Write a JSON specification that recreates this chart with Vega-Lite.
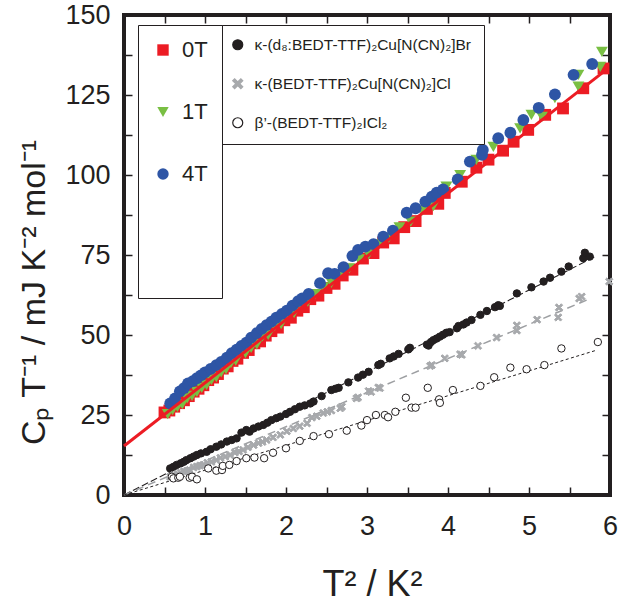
{
  "$schema": "https://vega.github.io/schema/vega-lite/v6.json",
  "width": 486,
  "height": 480,
  "autosize": {"type": "none"},
  "padding": {"left": 124, "top": 15, "right": 29, "bottom": 111},
  "background": "white",
  "datasets": {
    "fits": [
      {"fit": "0T", "T2": 0, "CpT": 15.3},
      {"fit": "0T", "T2": 5.98, "CpT": 133.4},
      {"fit": "Br", "T2": 0, "CpT": 0},
      {"fit": "Br", "T2": 5.81, "CpT": 74.4},
      {"fit": "Cl", "T2": 0, "CpT": 0},
      {"fit": "Cl", "T2": 5.72, "CpT": 61},
      {"fit": "ICl2", "T2": 0, "CpT": 0},
      {"fit": "ICl2", "T2": 5.84, "CpT": 45.3}
    ],
    "compounds": [
      {"c": "Br", "T2": 0.57, "CpT": 8.3}, {"c": "Br", "T2": 0.61, "CpT": 8.8}, {"c": "Br", "T2": 0.65, "CpT": 9.4},
      {"c": "Br", "T2": 0.70, "CpT": 9.9}, {"c": "Br", "T2": 0.74, "CpT": 10.4}, {"c": "Br", "T2": 0.77, "CpT": 10.9},
      {"c": "Br", "T2": 0.82, "CpT": 11.5}, {"c": "Br", "T2": 0.86, "CpT": 12.0}, {"c": "Br", "T2": 0.90, "CpT": 12.5},
      {"c": "Br", "T2": 0.95, "CpT": 13.0}, {"c": "Br", "T2": 1.02, "CpT": 13.5}, {"c": "Br", "T2": 1.07, "CpT": 14.3},
      {"c": "Br", "T2": 1.14, "CpT": 15.1}, {"c": "Br", "T2": 1.20, "CpT": 15.8}, {"c": "Br", "T2": 1.27, "CpT": 16.7},
      {"c": "Br", "T2": 1.33, "CpT": 17.2}, {"c": "Br", "T2": 1.39, "CpT": 17.7}, {"c": "Br", "T2": 1.45, "CpT": 19.5},
      {"c": "Br", "T2": 1.51, "CpT": 20.3}, {"c": "Br", "T2": 1.55, "CpT": 19.8}, {"c": "Br", "T2": 1.60, "CpT": 20.8},
      {"c": "Br", "T2": 1.66, "CpT": 21.4}, {"c": "Br", "T2": 1.72, "CpT": 21.9}, {"c": "Br", "T2": 1.77, "CpT": 22.6},
      {"c": "Br", "T2": 1.82, "CpT": 23.4}, {"c": "Br", "T2": 1.88, "CpT": 24.0}, {"c": "Br", "T2": 1.93, "CpT": 24.5},
      {"c": "Br", "T2": 2.00, "CpT": 25.3}, {"c": "Br", "T2": 2.05, "CpT": 26.0}, {"c": "Br", "T2": 2.11, "CpT": 26.8},
      {"c": "Br", "T2": 2.17, "CpT": 27.6}, {"c": "Br", "T2": 2.23, "CpT": 28.0}, {"c": "Br", "T2": 2.30, "CpT": 28.6},
      {"c": "Br", "T2": 2.34, "CpT": 29.2}, {"c": "Br", "T2": 2.44, "CpT": 30.9}, {"c": "Br", "T2": 2.56, "CpT": 32.8},
      {"c": "Br", "T2": 2.61, "CpT": 33.2}, {"c": "Br", "T2": 2.65, "CpT": 33.5}, {"c": "Br", "T2": 2.77, "CpT": 35.2},
      {"c": "Br", "T2": 2.89, "CpT": 36.7}, {"c": "Br", "T2": 2.95, "CpT": 37.6}, {"c": "Br", "T2": 3.02, "CpT": 38.5},
      {"c": "Br", "T2": 3.14, "CpT": 40.6}, {"c": "Br", "T2": 3.17, "CpT": 41.0}, {"c": "Br", "T2": 3.28, "CpT": 42.7},
      {"c": "Br", "T2": 3.33, "CpT": 43.3}, {"c": "Br", "T2": 3.39, "CpT": 44.1}, {"c": "Br", "T2": 3.51, "CpT": 45.5},
      {"c": "Br", "T2": 3.53, "CpT": 46.0}, {"c": "Br", "T2": 3.74, "CpT": 47.0}, {"c": "Br", "T2": 3.76, "CpT": 46.7},
      {"c": "Br", "T2": 3.79, "CpT": 47.8}, {"c": "Br", "T2": 3.82, "CpT": 48.4}, {"c": "Br", "T2": 3.86, "CpT": 48.9},
      {"c": "Br", "T2": 3.90, "CpT": 49.5}, {"c": "Br", "T2": 3.94, "CpT": 50.1}, {"c": "Br", "T2": 3.98, "CpT": 50.7},
      {"c": "Br", "T2": 4.02, "CpT": 50.9}, {"c": "Br", "T2": 4.11, "CpT": 52.1}, {"c": "Br", "T2": 4.13, "CpT": 52.8},
      {"c": "Br", "T2": 4.19, "CpT": 53.3}, {"c": "Br", "T2": 4.23, "CpT": 53.9}, {"c": "Br", "T2": 4.29, "CpT": 54.7},
      {"c": "Br", "T2": 4.40, "CpT": 56.3}, {"c": "Br", "T2": 4.48, "CpT": 57.5}, {"c": "Br", "T2": 4.58, "CpT": 58.7},
      {"c": "Br", "T2": 4.62, "CpT": 59.3}, {"c": "Br", "T2": 4.64, "CpT": 59.1}, {"c": "Br", "T2": 4.85, "CpT": 63.0},
      {"c": "Br", "T2": 5.03, "CpT": 64.9}, {"c": "Br", "T2": 5.18, "CpT": 66.7}, {"c": "Br", "T2": 5.26, "CpT": 67.9},
      {"c": "Br", "T2": 5.40, "CpT": 69.8}, {"c": "Br", "T2": 5.49, "CpT": 71.4}, {"c": "Br", "T2": 5.67, "CpT": 74.0},
      {"c": "Br", "T2": 5.69, "CpT": 75.7}, {"c": "Br", "T2": 5.75, "CpT": 74.5},
      {"c": "Cl", "T2": 0.57, "CpT": 5.7}, {"c": "Cl", "T2": 0.62, "CpT": 6.2}, {"c": "Cl", "T2": 0.66, "CpT": 6.5},
      {"c": "Cl", "T2": 0.70, "CpT": 7.0}, {"c": "Cl", "T2": 0.74, "CpT": 7.4}, {"c": "Cl", "T2": 0.78, "CpT": 7.6},
      {"c": "Cl", "T2": 0.81, "CpT": 7.8}, {"c": "Cl", "T2": 0.86, "CpT": 8.6}, {"c": "Cl", "T2": 0.90, "CpT": 8.9},
      {"c": "Cl", "T2": 0.94, "CpT": 9.2}, {"c": "Cl", "T2": 0.98, "CpT": 9.4}, {"c": "Cl", "T2": 1.03, "CpT": 10.1},
      {"c": "Cl", "T2": 1.08, "CpT": 10.4}, {"c": "Cl", "T2": 1.14, "CpT": 10.9}, {"c": "Cl", "T2": 1.19, "CpT": 11.6},
      {"c": "Cl", "T2": 1.25, "CpT": 12.0}, {"c": "Cl", "T2": 1.31, "CpT": 12.5}, {"c": "Cl", "T2": 1.37, "CpT": 13.3},
      {"c": "Cl", "T2": 1.42, "CpT": 13.6}, {"c": "Cl", "T2": 1.47, "CpT": 14.1}, {"c": "Cl", "T2": 1.53, "CpT": 14.9},
      {"c": "Cl", "T2": 1.60, "CpT": 15.6}, {"c": "Cl", "T2": 1.66, "CpT": 16.2}, {"c": "Cl", "T2": 1.71, "CpT": 16.6},
      {"c": "Cl", "T2": 1.76, "CpT": 17.2}, {"c": "Cl", "T2": 1.84, "CpT": 18.0}, {"c": "Cl", "T2": 1.93, "CpT": 18.8},
      {"c": "Cl", "T2": 2.01, "CpT": 19.9}, {"c": "Cl", "T2": 2.09, "CpT": 20.8}, {"c": "Cl", "T2": 2.17, "CpT": 21.5},
      {"c": "Cl", "T2": 2.26, "CpT": 22.4}, {"c": "Cl", "T2": 2.32, "CpT": 24.2}, {"c": "Cl", "T2": 2.38, "CpT": 24.6},
      {"c": "Cl", "T2": 2.46, "CpT": 25.6}, {"c": "Cl", "T2": 2.51, "CpT": 26.0}, {"c": "Cl", "T2": 2.56, "CpT": 26.4},
      {"c": "Cl", "T2": 2.67, "CpT": 27.1}, {"c": "Cl", "T2": 2.69, "CpT": 27.6}, {"c": "Cl", "T2": 2.87, "CpT": 30.2},
      {"c": "Cl", "T2": 2.89, "CpT": 30.5}, {"c": "Cl", "T2": 3.02, "CpT": 32.5}, {"c": "Cl", "T2": 3.05, "CpT": 32.2},
      {"c": "Cl", "T2": 3.14, "CpT": 33.6}, {"c": "Cl", "T2": 3.16, "CpT": 33.4}, {"c": "Cl", "T2": 3.78, "CpT": 40.3},
      {"c": "Cl", "T2": 3.80, "CpT": 40.6}, {"c": "Cl", "T2": 3.96, "CpT": 42.7}, {"c": "Cl", "T2": 4.15, "CpT": 44.0},
      {"c": "Cl", "T2": 4.17, "CpT": 43.8}, {"c": "Cl", "T2": 4.37, "CpT": 46.6}, {"c": "Cl", "T2": 4.60, "CpT": 49.2},
      {"c": "Cl", "T2": 4.85, "CpT": 51.4}, {"c": "Cl", "T2": 4.85, "CpT": 53.0}, {"c": "Cl", "T2": 5.10, "CpT": 54.8},
      {"c": "Cl", "T2": 5.36, "CpT": 55.5}, {"c": "Cl", "T2": 5.37, "CpT": 58.6}, {"c": "Cl", "T2": 5.62, "CpT": 61.4},
      {"c": "Cl", "T2": 5.65, "CpT": 62.0}, {"c": "Cl", "T2": 5.99, "CpT": 66.7},
      {"c": "ICl2", "T2": 0.59, "CpT": 5.7}, {"c": "ICl2", "T2": 0.61, "CpT": 5.2}, {"c": "ICl2", "T2": 0.67, "CpT": 5.4},
      {"c": "ICl2", "T2": 0.69, "CpT": 5.7}, {"c": "ICl2", "T2": 0.81, "CpT": 5.4}, {"c": "ICl2", "T2": 0.84, "CpT": 5.7},
      {"c": "ICl2", "T2": 0.90, "CpT": 4.9}, {"c": "ICl2", "T2": 1.04, "CpT": 8.3}, {"c": "ICl2", "T2": 1.14, "CpT": 7.6},
      {"c": "ICl2", "T2": 1.21, "CpT": 7.8}, {"c": "ICl2", "T2": 1.22, "CpT": 9.1}, {"c": "ICl2", "T2": 1.30, "CpT": 9.4},
      {"c": "ICl2", "T2": 1.39, "CpT": 10.6}, {"c": "ICl2", "T2": 1.51, "CpT": 11.5}, {"c": "ICl2", "T2": 1.61, "CpT": 11.7},
      {"c": "ICl2", "T2": 1.73, "CpT": 11.5}, {"c": "ICl2", "T2": 1.84, "CpT": 13.2}, {"c": "ICl2", "T2": 2.00, "CpT": 14.6},
      {"c": "ICl2", "T2": 2.17, "CpT": 16.9}, {"c": "ICl2", "T2": 2.34, "CpT": 18.4}, {"c": "ICl2", "T2": 2.53, "CpT": 19.0},
      {"c": "ICl2", "T2": 2.75, "CpT": 20.1}, {"c": "ICl2", "T2": 2.93, "CpT": 21.7}, {"c": "ICl2", "T2": 3.00, "CpT": 23.4},
      {"c": "ICl2", "T2": 3.11, "CpT": 25.0}, {"c": "ICl2", "T2": 3.22, "CpT": 25.0}, {"c": "ICl2", "T2": 3.26, "CpT": 24.3},
      {"c": "ICl2", "T2": 3.35, "CpT": 26.0}, {"c": "ICl2", "T2": 3.48, "CpT": 30.4}, {"c": "ICl2", "T2": 3.55, "CpT": 27.3},
      {"c": "ICl2", "T2": 3.60, "CpT": 27.3}, {"c": "ICl2", "T2": 3.75, "CpT": 33.5}, {"c": "ICl2", "T2": 3.89, "CpT": 29.9},
      {"c": "ICl2", "T2": 3.90, "CpT": 28.8}, {"c": "ICl2", "T2": 4.06, "CpT": 32.8}, {"c": "ICl2", "T2": 4.40, "CpT": 34.1},
      {"c": "ICl2", "T2": 4.57, "CpT": 36.8}, {"c": "ICl2", "T2": 4.77, "CpT": 39.8}, {"c": "ICl2", "T2": 4.97, "CpT": 39.3},
      {"c": "ICl2", "T2": 5.19, "CpT": 40.6}, {"c": "ICl2", "T2": 5.40, "CpT": 45.8}, {"c": "ICl2", "T2": 5.85, "CpT": 47.8}
    ],
    "field": [
      {"s": "0T", "T2": 0.50, "CpT": 25.8}, {"s": "0T", "T2": 0.56, "CpT": 26.4}, {"s": "0T", "T2": 0.62, "CpT": 27.6},
      {"s": "0T", "T2": 0.68, "CpT": 28.7}, {"s": "0T", "T2": 0.74, "CpT": 29.6}, {"s": "0T", "T2": 0.80, "CpT": 30.9},
      {"s": "0T", "T2": 0.86, "CpT": 32.3}, {"s": "0T", "T2": 0.92, "CpT": 33.2}, {"s": "0T", "T2": 0.98, "CpT": 34.3},
      {"s": "0T", "T2": 1.04, "CpT": 35.9}, {"s": "0T", "T2": 1.10, "CpT": 36.7}, {"s": "0T", "T2": 1.16, "CpT": 37.8},
      {"s": "0T", "T2": 1.22, "CpT": 39.5}, {"s": "0T", "T2": 1.28, "CpT": 40.2}, {"s": "0T", "T2": 1.34, "CpT": 41.9},
      {"s": "0T", "T2": 1.40, "CpT": 42.6}, {"s": "0T", "T2": 1.47, "CpT": 44.4}, {"s": "0T", "T2": 1.54, "CpT": 45.3},
      {"s": "0T", "T2": 1.61, "CpT": 47.4}, {"s": "0T", "T2": 1.68, "CpT": 48.0}, {"s": "0T", "T2": 1.75, "CpT": 49.8},
      {"s": "0T", "T2": 1.82, "CpT": 51.2}, {"s": "0T", "T2": 1.90, "CpT": 52.3}, {"s": "0T", "T2": 1.98, "CpT": 54.6},
      {"s": "0T", "T2": 2.06, "CpT": 55.4}, {"s": "0T", "T2": 2.14, "CpT": 57.6}, {"s": "0T", "T2": 2.22, "CpT": 58.7},
      {"s": "0T", "T2": 2.30, "CpT": 61.2}, {"s": "0T", "T2": 2.40, "CpT": 62.3}, {"s": "0T", "T2": 2.50, "CpT": 64.7},
      {"s": "0T", "T2": 2.60, "CpT": 66.0}, {"s": "0T", "T2": 2.70, "CpT": 68.6}, {"s": "0T", "T2": 2.82, "CpT": 70.4},
      {"s": "0T", "T2": 2.95, "CpT": 73.9}, {"s": "0T", "T2": 3.08, "CpT": 75.6}, {"s": "0T", "T2": 3.20, "CpT": 78.9},
      {"s": "0T", "T2": 3.33, "CpT": 80.2}, {"s": "0T", "T2": 3.46, "CpT": 83.7}, {"s": "0T", "T2": 3.60, "CpT": 85.6},
      {"s": "0T", "T2": 3.74, "CpT": 89.4}, {"s": "0T", "T2": 3.88, "CpT": 91.0}, {"s": "0T", "T2": 3.96, "CpT": 94.4},
      {"s": "0T", "T2": 4.17, "CpT": 97.9}, {"s": "0T", "T2": 4.35, "CpT": 102.3}, {"s": "0T", "T2": 4.50, "CpT": 104.8},
      {"s": "0T", "T2": 4.68, "CpT": 107.6}, {"s": "0T", "T2": 4.81, "CpT": 110.4}, {"s": "0T", "T2": 4.99, "CpT": 114.1},
      {"s": "0T", "T2": 5.20, "CpT": 118.8}, {"s": "0T", "T2": 5.42, "CpT": 120.8}, {"s": "0T", "T2": 5.67, "CpT": 127.1},
      {"s": "0T", "T2": 5.92, "CpT": 133.3},
      {"s": "1T", "T2": 0.54, "CpT": 25.3}, {"s": "1T", "T2": 0.60, "CpT": 26.5}, {"s": "1T", "T2": 0.66, "CpT": 27.5},
      {"s": "1T", "T2": 0.72, "CpT": 28.4}, {"s": "1T", "T2": 0.78, "CpT": 30.2}, {"s": "1T", "T2": 0.84, "CpT": 31.0},
      {"s": "1T", "T2": 0.90, "CpT": 32.2}, {"s": "1T", "T2": 0.96, "CpT": 33.5}, {"s": "1T", "T2": 1.02, "CpT": 34.4},
      {"s": "1T", "T2": 1.08, "CpT": 36.0}, {"s": "1T", "T2": 1.14, "CpT": 36.8}, {"s": "1T", "T2": 1.20, "CpT": 38.3},
      {"s": "1T", "T2": 1.26, "CpT": 39.3}, {"s": "1T", "T2": 1.32, "CpT": 41.2}, {"s": "1T", "T2": 1.38, "CpT": 42.0},
      {"s": "1T", "T2": 1.44, "CpT": 44.6}, {"s": "1T", "T2": 1.50, "CpT": 44.3}, {"s": "1T", "T2": 1.57, "CpT": 46.0},
      {"s": "1T", "T2": 1.64, "CpT": 47.1}, {"s": "1T", "T2": 1.71, "CpT": 49.6}, {"s": "1T", "T2": 1.78, "CpT": 50.0},
      {"s": "1T", "T2": 1.86, "CpT": 52.8}, {"s": "1T", "T2": 1.94, "CpT": 53.4}, {"s": "1T", "T2": 2.02, "CpT": 56.3},
      {"s": "1T", "T2": 2.10, "CpT": 56.9}, {"s": "1T", "T2": 2.18, "CpT": 59.6}, {"s": "1T", "T2": 2.27, "CpT": 60.4},
      {"s": "1T", "T2": 2.36, "CpT": 62.8}, {"s": "1T", "T2": 2.46, "CpT": 64.9}, {"s": "1T", "T2": 2.56, "CpT": 66.3},
      {"s": "1T", "T2": 2.66, "CpT": 68.9}, {"s": "1T", "T2": 2.78, "CpT": 70.8}, {"s": "1T", "T2": 2.90, "CpT": 73.6},
      {"s": "1T", "T2": 3.02, "CpT": 75.2}, {"s": "1T", "T2": 3.14, "CpT": 78.3}, {"s": "1T", "T2": 3.27, "CpT": 80.4},
      {"s": "1T", "T2": 3.40, "CpT": 83.6}, {"s": "1T", "T2": 3.54, "CpT": 85.4}, {"s": "1T", "T2": 3.68, "CpT": 88.9},
      {"s": "1T", "T2": 3.82, "CpT": 90.3}, {"s": "1T", "T2": 3.98, "CpT": 96.4}, {"s": "1T", "T2": 4.15, "CpT": 100.0},
      {"s": "1T", "T2": 4.35, "CpT": 104.7}, {"s": "1T", "T2": 4.56, "CpT": 108.8}, {"s": "1T", "T2": 4.89, "CpT": 114.6},
      {"s": "1T", "T2": 5.03, "CpT": 118.8}, {"s": "1T", "T2": 5.16, "CpT": 118.2}, {"s": "1T", "T2": 5.32, "CpT": 124.0},
      {"s": "1T", "T2": 5.61, "CpT": 127.6}, {"s": "1T", "T2": 5.61, "CpT": 131.3}, {"s": "1T", "T2": 5.88, "CpT": 133.8},
      {"s": "1T", "T2": 5.90, "CpT": 138.5},
      {"s": "4T", "T2": 0.57, "CpT": 28.6}, {"s": "4T", "T2": 0.63, "CpT": 30.2}, {"s": "4T", "T2": 0.69, "CpT": 32.4},
      {"s": "4T", "T2": 0.74, "CpT": 33.4}, {"s": "4T", "T2": 0.79, "CpT": 34.9}, {"s": "4T", "T2": 0.85, "CpT": 35.6},
      {"s": "4T", "T2": 0.90, "CpT": 36.5}, {"s": "4T", "T2": 0.95, "CpT": 37.4}, {"s": "4T", "T2": 1.00, "CpT": 38.3},
      {"s": "4T", "T2": 1.07, "CpT": 39.4}, {"s": "4T", "T2": 1.14, "CpT": 40.6}, {"s": "4T", "T2": 1.20, "CpT": 41.6},
      {"s": "4T", "T2": 1.27, "CpT": 42.9}, {"s": "4T", "T2": 1.33, "CpT": 44.3}, {"s": "4T", "T2": 1.39, "CpT": 45.4},
      {"s": "4T", "T2": 1.45, "CpT": 46.6}, {"s": "4T", "T2": 1.51, "CpT": 47.6}, {"s": "4T", "T2": 1.57, "CpT": 49.2},
      {"s": "4T", "T2": 1.64, "CpT": 50.6}, {"s": "4T", "T2": 1.70, "CpT": 51.9}, {"s": "4T", "T2": 1.76, "CpT": 53.1},
      {"s": "4T", "T2": 1.82, "CpT": 54.2}, {"s": "4T", "T2": 1.88, "CpT": 55.4}, {"s": "4T", "T2": 1.95, "CpT": 56.6},
      {"s": "4T", "T2": 2.01, "CpT": 57.6}, {"s": "4T", "T2": 2.08, "CpT": 59.2}, {"s": "4T", "T2": 2.15, "CpT": 60.6},
      {"s": "4T", "T2": 2.20, "CpT": 61.4}, {"s": "4T", "T2": 2.28, "CpT": 62.8}, {"s": "4T", "T2": 2.42, "CpT": 66.2},
      {"s": "4T", "T2": 2.52, "CpT": 69.3}, {"s": "4T", "T2": 2.60, "CpT": 69.1}, {"s": "4T", "T2": 2.71, "CpT": 71.2},
      {"s": "4T", "T2": 2.82, "CpT": 74.7}, {"s": "4T", "T2": 2.89, "CpT": 76.6}, {"s": "4T", "T2": 2.98, "CpT": 77.6},
      {"s": "4T", "T2": 3.08, "CpT": 78.4}, {"s": "4T", "T2": 3.20, "CpT": 80.7}, {"s": "4T", "T2": 3.32, "CpT": 82.6},
      {"s": "4T", "T2": 3.49, "CpT": 88.2}, {"s": "4T", "T2": 3.60, "CpT": 89.6}, {"s": "4T", "T2": 3.72, "CpT": 91.7},
      {"s": "4T", "T2": 3.80, "CpT": 93.2}, {"s": "4T", "T2": 3.86, "CpT": 94.5}, {"s": "4T", "T2": 3.94, "CpT": 95.5},
      {"s": "4T", "T2": 4.12, "CpT": 98.6}, {"s": "4T", "T2": 4.27, "CpT": 104.2}, {"s": "4T", "T2": 4.42, "CpT": 106.3},
      {"s": "4T", "T2": 4.43, "CpT": 107.8}, {"s": "4T", "T2": 4.62, "CpT": 111.5}, {"s": "4T", "T2": 4.77, "CpT": 113.2},
      {"s": "4T", "T2": 4.93, "CpT": 117.2}, {"s": "4T", "T2": 5.12, "CpT": 121.0}, {"s": "4T", "T2": 5.32, "CpT": 125.2},
      {"s": "4T", "T2": 5.55, "CpT": 131.3}, {"s": "4T", "T2": 5.78, "CpT": 134.7}
    ]
  },
  "layer": [
    {
      "data": {"name": "fits"},
      "transform": [{"filter": "datum.fit === 'Br'"}],
      "mark": {"type": "line", "color": "#231f20", "strokeWidth": 1.1, "strokeDash": [7, 3]},
      "encoding": {
        "x": {"field": "T2", "type": "quantitative", "scale": {"domain": [0, 6], "nice": false}, "axis": null},
        "y": {"field": "CpT", "type": "quantitative", "scale": {"domain": [0, 150], "nice": false}, "axis": null}
      }
    },
    {
      "data": {"name": "fits"},
      "transform": [{"filter": "datum.fit === 'Cl'"}],
      "mark": {"type": "line", "color": "#9d9fa2", "strokeWidth": 1.5, "strokeDash": [8, 5]},
      "encoding": {
        "x": {"field": "T2", "type": "quantitative", "scale": {"domain": [0, 6], "nice": false}, "axis": null},
        "y": {"field": "CpT", "type": "quantitative", "scale": {"domain": [0, 150], "nice": false}, "axis": null}
      }
    },
    {
      "data": {"name": "fits"},
      "transform": [{"filter": "datum.fit === 'ICl2'"}],
      "mark": {"type": "line", "color": "#231f20", "strokeWidth": 1, "strokeDash": [3, 2.5]},
      "encoding": {
        "x": {"field": "T2", "type": "quantitative", "scale": {"domain": [0, 6], "nice": false}, "axis": null},
        "y": {"field": "CpT", "type": "quantitative", "scale": {"domain": [0, 150], "nice": false}, "axis": null}
      }
    },
    {
      "data": {"name": "compounds"},
      "mark": {"type": "point", "size": 55, "strokeWidth": 1, "opacity": 1},
      "encoding": {
        "x": {"field": "T2", "type": "quantitative", "scale": {"domain": [0, 6], "nice": false}, "axis": null},
        "y": {"field": "CpT", "type": "quantitative", "scale": {"domain": [0, 150], "nice": false}, "axis": null},
        "shape": {
          "field": "c", "type": "nominal",
          "scale": {"domain": ["Br", "Cl", "ICl2"], "range": ["circle", "M-1,-0.62L-0.62,-1L0,-0.38L0.62,-1L1,-0.62L0.38,0L1,0.62L0.62,1L0,0.38L-0.62,1L-1,0.62L-0.38,0Z", "circle"]},
          "legend": {
            "orient": "none", "legendX": 94, "legendY": 10, "title": null,
            "labelExpr": "datum.label === 'Br' ? 'κ-(d₈:BEDT-TTF)₂Cu[N(CN)₂]Br' : datum.label === 'Cl' ? 'κ-(BEDT-TTF)₂Cu[N(CN)₂]Cl' : 'β’-(BEDT-TTF)₂ICl₂'",
            "labelFontSize": 15.5, "labelLimit": 400, "labelFont": "Arial", "labelColor": "#231f20",
            "symbolSize": 100, "symbolStrokeWidth": 1.2, "labelOffset": 9,
            "padding": 12, "rowPadding": 22, "strokeColor": "#231f20", "fillColor": "white"
          }
        },
        "fill": {"field": "c", "type": "nominal", "scale": {"domain": ["Br", "Cl", "ICl2"], "range": ["#231f20", "#a7a9ac", "white"]}},
        "stroke": {"field": "c", "type": "nominal", "scale": {"domain": ["Br", "Cl", "ICl2"], "range": ["#231f20", "#a7a9ac", "#231f20"]}}
      }
    },
    {
      "data": {"name": "field"},
      "mark": {"type": "point", "filled": true, "size": 140, "opacity": 1, "strokeWidth": 0},
      "encoding": {
        "x": {
          "field": "T2", "type": "quantitative", "scale": {"domain": [0, 6], "nice": false},
          "axis": {
            "orient": "bottom",
            "values": [0, 0.5, 1, 1.5, 2, 2.5, 3, 3.5, 4, 4.5, 5, 5.5, 6],
            "labelExpr": "datum.value % 1 === 0 ? format(datum.value, 'd') : ''",
            "labelPadding": 26, "tickSize": -8, "tickWidth": 1.5, "tickColor": "#231f20", "ticks": true,
            "title": "T² / K²", "titleFontSize": 36, "titleFontWeight": "normal",
            "titleX": 248, "titleY": 100, "titleBaseline": "alphabetic", "titleAlign": "center"
          }
        },
        "y": {
          "field": "CpT", "type": "quantitative", "scale": {"domain": [0, 150], "nice": false},
          "axis": {
            "orient": "left",
            "values": [0, 12.5, 25, 37.5, 50, 62.5, 75, 87.5, 100, 112.5, 125, 137.5, 150],
            "labelExpr": "datum.value % 25 === 0 ? format(datum.value, 'd') : ''",
            "labelPadding": 22, "tickSize": -8, "tickWidth": 1.5, "tickColor": "#231f20", "ticks": true,
            "title": "Cₚ T⁻¹ / mJ K⁻² mol⁻¹", "titleFontSize": 34, "titleFontWeight": "normal",
            "titleAngle": 270, "titleX": -90, "titleY": 277, "titleAlign": "center", "titleBaseline": "middle"
          }
        },
        "color": {
          "field": "s", "type": "nominal",
          "scale": {"domain": ["0T", "1T", "4T"], "range": ["#ec1c24", "#79bf43", "#2e55a5"]},
          "legend": {
            "orient": "none", "legendX": 14, "legendY": 10, "title": " ", "titleOrient": "bottom",
            "titleFontSize": 100, "titlePadding": 0,
            "labelFontSize": 22, "labelFont": "Arial", "labelColor": "#231f20",
            "symbolSize": 130, "symbolStrokeWidth": 0, "labelOffset": 8,
            "padding": 14, "rowPadding": 40, "strokeColor": "#231f20", "fillColor": "white"
          }
        },
        "shape": {
          "field": "s", "type": "nominal",
          "scale": {"domain": ["0T", "1T", "4T"], "range": ["square", "triangle-down", "circle"]},
          "legend": {
            "orient": "none", "legendX": 14, "legendY": 10, "title": " ", "titleOrient": "bottom",
            "titleFontSize": 100, "titlePadding": 0,
            "labelFontSize": 22, "labelFont": "Arial", "labelColor": "#231f20",
            "symbolSize": 130, "symbolStrokeWidth": 0, "labelOffset": 8,
            "padding": 14, "rowPadding": 40, "strokeColor": "#231f20", "fillColor": "white"
          }
        }
      }
    },
    {
      "data": {"name": "fits"},
      "transform": [{"filter": "datum.fit === '0T'"}],
      "mark": {"type": "line", "color": "#ec1c24", "strokeWidth": 3},
      "encoding": {
        "x": {
          "field": "T2", "type": "quantitative", "scale": {"domain": [0, 6], "nice": false},
          "axis": {"orient": "top", "values": [0, 0.5, 1, 1.5, 2, 2.5, 3, 3.5, 4, 4.5, 5, 5.5, 6], "labels": false, "title": null, "tickSize": -8, "tickWidth": 1.5, "tickColor": "#231f20", "ticks": true}
        },
        "y": {
          "field": "CpT", "type": "quantitative", "scale": {"domain": [0, 150], "nice": false},
          "axis": {"orient": "right", "values": [0, 12.5, 25, 37.5, 50, 62.5, 75, 87.5, 100, 112.5, 125, 137.5, 150], "labels": false, "title": null, "tickSize": -8, "tickWidth": 1.5, "tickColor": "#231f20", "ticks": true}
        }
      }
    }
  ],
  "resolve": {
    "axis": {"x": "independent", "y": "independent"},
    "scale": {"shape": "independent", "color": "independent", "fill": "independent", "stroke": "independent"}
  },
  "config": {
    "view": {"stroke": "#231f20", "strokeWidth": 4},
    "axis": {
      "grid": false, "domain": false,
      "labelFont": "Arial", "labelFontSize": 27, "labelColor": "#231f20",
      "labelFlush": false, "labelOverlap": false,
      "titleFont": "Arial", "titleColor": "#231f20"
    },
    "legend": {"titleFont": "Arial"}
  }
}
